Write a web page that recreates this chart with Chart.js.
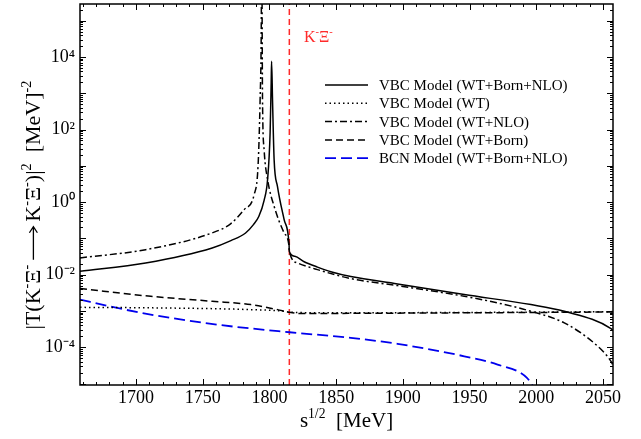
<!DOCTYPE html>
<html>
<head>
    <title>K- Xi- amplitude</title>
    <style>
        body { margin: 0; background: #fff; }
        #wrap { width: 641px; height: 439px; }
    </style>
</head>
<body>
    <div id="wrap"><canvas id="chart" width="641" height="439"></canvas></div>

    <script src="https://cdn.jsdelivr.net/npm/chart.js"></script>
    <script>
        // energies in MeV, |T|^2 in MeV^-2
        var solidE = [1658, 1707.2, 1757.1, 1771.1, 1782.1, 1788.0, 1792.0, 1796.0, 1798.6, 1800.5, 1801.3, 1801.6,
                      1802.3, 1803.5, 1806.0, 1811.0, 1814.7, 1814.9, 1819, 1826, 1836, 1846, 1861, 1896, 1946, 1996, 2021, 2056, 2057.5];
        var solidT = [0.0124, 0.0211, 0.0547, 0.087, 0.141, 0.24, 0.40, 1.12, 4.2, 82, 1950, 7600,
                      667, 14.8, 2.72, 0.33, 0.0675, 0.0433, 0.032, 0.0228, 0.0162, 0.0121, 0.0089, 0.00558, 0.00283, 0.0015, 0.00098, 3.27e-4, 2.9e-4];

        var wtE = [1658, 1711, 1786, 1811, 1815, 1830, 1900, 1950, 2000, 2057.5];
        var wtT = [1.26e-3, 1.22e-3, 1.09e-3, 9.8e-4, 9.3e-4, 9.0e-4, 9.0e-4, 9.1e-4, 9.3e-4, 9.6e-4];

        var nloE = [1658, 1707.2, 1757.1, 1771.1, 1781.0, 1788.5, 1791.5, 1793.0, 1793.8, 1794.2, 1794.8, 1796.0, 1798.6,
                    1803.5, 1811.0, 1814.7, 1814.9, 1821, 1836, 1861, 1896, 1946, 1971, 1996, 2021, 2046, 2056, 2057.5];
        var nloT = [0.029, 0.049, 0.142, 0.256, 0.62, 1.6, 10.7, 667, 3e4, 1e7, 667, 27.9, 4.2,
                    0.766, 0.142, 0.0605, 0.045, 0.0211, 0.0138, 0.0078, 0.0050, 0.00254, 0.00167, 0.00098, 4.7e-4, 1.07e-4, 4.1e-5, 3.2e-5];

        var bornE = [1658, 1711, 1757, 1786, 1806, 1815, 1823.5, 1861, 1946, 2000, 2057.5];
        var bornT = [4.14e-3, 2.54e-3, 1.85e-3, 1.5e-3, 1.09e-3, 9.2e-4, 8.5e-4, 8.6e-4, 8.9e-4, 9.1e-4, 9.4e-4];

        var bcnE = [1658, 1681, 1711, 1761, 1815, 1861, 1896, 1946, 1971, 1993, 2000];
        var bcnT = [2.06e-3, 1.32e-3, 7.96e-4, 4.2e-4, 2.59e-4, 1.82e-4, 1.24e-4, 5.65e-5, 3.33e-5, 1.44e-5, 6e-6];

        var thresholdE = 1814.9;
        var xTicks = [1700, 1750, 1800, 1850, 1900, 1950, 2000, 2050];
        var yExps = [-5, -4, -3, -2, -1, 0, 1, 2, 3, 4, 5];

        var xMin = 1658, xMax = 2057.5;
        var yMin = Math.pow(10, -5.04), yMax = Math.pow(10, 5.46);
        var serif = "'Liberation Serif', 'Times New Roman', serif";

        function pts(xs, ys) {
            return xs.map(function (v, i) { return { x: v, y: ys[i] }; });
        }

        var supDigits = { '-': '\u207B', '0': '\u2070', '1': '\u00B9', '2': '\u00B2', '3': '\u00B3', '4': '\u2074', '5': '\u2075' };
        function sup(s) {
            return String(s).split('').map(function (c) { return supDigits[c] || c; }).join('');
        }

        // text pieces, some raised as superscripts, {arrow: n} is a long arrow
        function drawRich(ctx, parts, x, y, size, align) {
            var widths = parts.map(function (p) {
                if (p.arrow) return p.arrow + 10;
                ctx.font = (p.sup ? size * 0.65 : size) + 'px ' + serif;
                return ctx.measureText(p.t).width;
            });
            var total = widths.reduce(function (a, b) { return a + b; }, 0);
            var cx = align === 'center' ? x - total / 2 : x;
            parts.forEach(function (p, i) {
                if (p.arrow) {
                    var ay = y - size * 0.3, x0 = cx + 5, x1 = cx + 5 + p.arrow;
                    ctx.save();
                    ctx.strokeStyle = ctx.fillStyle;
                    ctx.lineWidth = 1.3;
                    ctx.beginPath();
                    ctx.moveTo(x0, ay); ctx.lineTo(x1, ay);
                    ctx.moveTo(x1 - 6, ay - 4); ctx.lineTo(x1, ay); ctx.lineTo(x1 - 6, ay + 4);
                    ctx.stroke();
                    ctx.restore();
                } else {
                    ctx.font = (p.sup ? size * 0.65 : size) + 'px ' + serif;
                    ctx.fillText(p.t, cx, p.sup ? y - size * 0.42 : y);
                }
                cx += widths[i];
            });
        }

        var series = [
            { label: 'VBC Model (WT+Born+NLO)', color: '#000', dash: [], width: 1.5 },
            { label: 'VBC Model (WT)', color: '#000', dash: [1.5, 3], width: 1.5 },
            { label: 'VBC Model (WT+NLO)', color: '#000', dash: [7, 3, 2, 3], width: 1.5 },
            { label: 'VBC Model (WT+Born)', color: '#000', dash: [7, 4], width: 1.5 },
            { label: 'BCN Model (WT+Born+NLO)', color: '#0000ee', dash: [11, 5], width: 1.8 }
        ];

        var decorations = {
            id: 'decorations',
            afterDraw: function (chart) {
                var ctx = chart.ctx, a = chart.chartArea;
                var x = chart.scales.x, y = chart.scales.y;
                ctx.save();
                ctx.strokeStyle = '#000';
                ctx.lineWidth = 1;

                // inward ticks
                ctx.beginPath();
                for (var v = 1660; v <= xMax; v += 10) {
                    var px = Math.round(x.getPixelForValue(v)) + 0.5;
                    var len = v % 50 === 0 ? 6 : 3;
                    ctx.moveTo(px, a.bottom); ctx.lineTo(px, a.bottom - len);
                    ctx.moveTo(px, a.top); ctx.lineTo(px, a.top + len);
                }
                for (var e = -6; e <= 5; e++) {
                    for (var m = 1; m <= 9; m++) {
                        var val = m * Math.pow(10, e);
                        if (val < yMin || val > yMax) continue;
                        var py = Math.round(y.getPixelForValue(val)) + 0.5;
                        var l = m === 1 ? 6 : 3;
                        ctx.moveTo(a.left, py); ctx.lineTo(a.left + l, py);
                        ctx.moveTo(a.right, py); ctx.lineTo(a.right - l, py);
                    }
                }
                ctx.stroke();

                // frame
                ctx.lineWidth = 1.5;
                ctx.strokeRect(a.left, a.top, a.right - a.left, a.bottom - a.top);

                // legend
                ctx.textBaseline = 'middle';
                ctx.textAlign = 'left';
                series.forEach(function (s, i) {
                    var ly = 85 + i * 18.3;
                    ctx.beginPath();
                    ctx.strokeStyle = s.color;
                    ctx.lineWidth = s.width;
                    ctx.setLineDash(s.dash);
                    ctx.moveTo(325, ly); ctx.lineTo(368, ly);
                    ctx.stroke();
                    ctx.setLineDash([]);
                    ctx.fillStyle = '#000';
                    ctx.font = '15px ' + serif;
                    ctx.fillText(s.label, 379, ly + 1);
                });

                // threshold label
                ctx.textBaseline = 'alphabetic';
                ctx.fillStyle = '#ff2a2a';
                drawRich(ctx, [{ t: 'K' }, { t: '-', sup: true }, { t: '\u039E' }, { t: '-', sup: true }], 304, 42, 16, 'left');

                // axis titles
                ctx.fillStyle = '#000';
                drawRich(ctx, [{ t: 's' }, { t: '1/2', sup: true }, { t: '  [MeV]' }], (a.left + a.right) / 2, 427, 21, 'center');

                ctx.translate(40, 205);
                ctx.rotate(-Math.PI / 2);
                drawRich(ctx, [
                    { t: '|T(K' }, { t: '-', sup: true }, { t: '\u039E' }, { t: '-', sup: true },
                    { arrow: 33 }, { t: 'K' }, { t: '-', sup: true }, { t: '\u039E' }, { t: '-', sup: true },
                    { t: ')|' }, { t: '2', sup: true }, { t: '  [MeV]' }, { t: '-2', sup: true }
                ], 0, 0, 22, 'center');
                ctx.restore();
            }
        };

        var datasets = [
            [solidE, solidT], [wtE, wtT], [nloE, nloT], [bornE, bornT], [bcnE, bcnT]
        ].map(function (d, i) {
            var s = series[i];
            return {
                label: s.label,
                data: pts(d[0], d[1]),
                borderColor: s.color,
                borderWidth: s.width,
                borderDash: s.dash,
                pointRadius: 0,
                fill: false,
                cubicInterpolationMode: 'monotone'
            };
        });

        datasets.push({
            label: 'threshold',
            data: [{ x: thresholdE, y: yMin }, { x: thresholdE, y: yMax }],
            borderColor: '#ff2a2a',
            borderWidth: 1.5,
            borderDash: [6, 4],
            pointRadius: 0,
            fill: false
        });

        var ctx = document.getElementById('chart').getContext('2d');
        var chart = new Chart(ctx, {
            type: 'line',
            data: { datasets: datasets },
            options: {
                responsive: false,
                animation: false,
                devicePixelRatio: 1,
                layout: { padding: { top: 4, right: 28, left: 0, bottom: 0 } },
                plugins: {
                    legend: { display: false },
                    tooltip: { enabled: false }
                },
                scales: {
                    x: {
                        type: 'linear',
                        min: xMin,
                        max: xMax,
                        grid: { display: false, drawTicks: false },
                        border: { display: false },
                        afterBuildTicks: function (s) {
                            s.ticks = xTicks.map(function (v) { return { value: v }; });
                        },
                        afterFit: function (s) {
                            s.height = 54;
                            s.paddingLeft = 0; s.paddingRight = 0;
                        },
                        ticks: {
                            padding: 2,
                            maxRotation: 0,
                            autoSkip: false,
                            color: '#000',
                            font: { family: serif, size: 18 },
                            callback: function (v) { return String(v); }
                        }
                    },
                    y: {
                        type: 'logarithmic',
                        min: yMin,
                        max: yMax,
                        grid: { display: false, drawTicks: false },
                        border: { display: false },
                        afterBuildTicks: function (s) {
                            s.ticks = yExps.map(function (e) { return { value: Math.pow(10, e) }; });
                        },
                        afterFit: function (s) {
                            s.width = 80;
                            s.paddingTop = 0; s.paddingBottom = 0;
                        },
                        ticks: {
                            padding: 5,
                            autoSkip: false,
                            color: '#000',
                            font: { family: serif, size: 18 },
                            callback: function (v) {
                                var e = Math.round(Math.log10(v));
                                return e % 2 === 0 ? '10' + sup(e) : '';
                            }
                        }
                    }
                }
            },
            plugins: [decorations]
        });
    </script>
</body>
</html>
